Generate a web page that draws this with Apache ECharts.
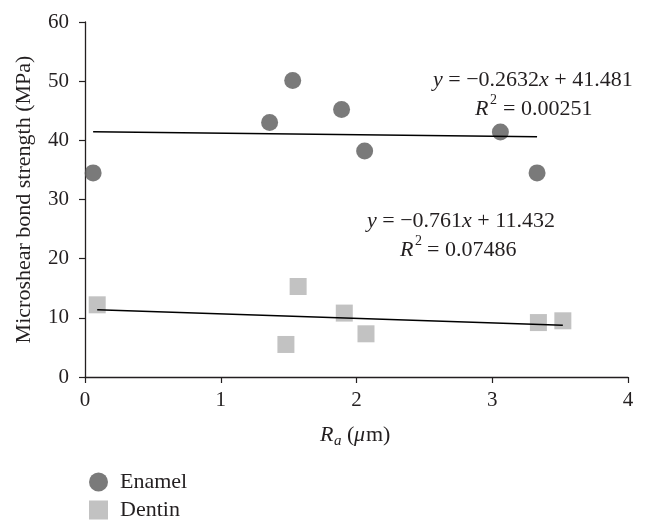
<!DOCTYPE html>
<html>
<head>
<meta charset="utf-8">
<script src="https://cdn.jsdelivr.net/npm/echarts@6/dist/echarts.min.js"></script>
<style>html,body{margin:0;padding:0;background:#fff}#c{width:648px;height:527px}</style>
</head>
<body>
<div id="c"></div>
<script>
const enamelX = [0.06, 1.36, 1.53, 1.89, 2.06, 3.06, 3.33];
const enamelY = [34.5, 43.0, 50.1, 45.2, 38.2, 41.4, 34.5];
const dentinX = [0.09, 1.57, 1.48, 1.91, 2.07, 3.34, 3.52];
const dentinY = [12.2, 15.3, 5.5, 10.8, 7.3, 9.2, 9.5];
const enamelTrendX = [0.06, 3.33];
const enamelTrendY = [41.46, 40.60];
const dentinTrendX = [0.09, 3.52];
const dentinTrendY = [11.36, 8.75];
const xTicks = [0, 1, 2, 3, 4];
const yTicks = [0, 10, 20, 30, 40, 50, 60];

const zip = (a, b) => a.map((v, i) => [v, b[i]]);
const FONT = '"Liberation Serif", "DejaVu Serif", serif';
const TXT = '#231f20';
const FS = 22;

function t(x, y, text, size, italic) {
  return {type: 'text', x: x, y: y, z: 10,
    style: {text: text, fontFamily: FONT, fontSize: size || FS, fontStyle: italic ? 'italic' : 'normal',
            fill: TXT, align: 'left', verticalAlign: 'middle'}};
}
function rt(x, y, text, size) {
  const s = size || FS;
  return {type: 'text', x: x, y: y, z: 10,
    style: {text: text, fontFamily: FONT, fontSize: s, fill: TXT, align: 'left', verticalAlign: 'middle',
      rich: {i: {fontStyle: 'italic', fontFamily: FONT, fontSize: s, fill: TXT}}}};
}

const chart = echarts.init(document.getElementById('c'), null, {renderer: 'canvas'});
chart.setOption({
  animation: false,
  backgroundColor: '#fff',
  grid: {left: 85, right: 20, top: 22, bottom: 150, containLabel: false},
  xAxis: {
    type: 'value', min: xTicks[0], max: xTicks[xTicks.length - 1], interval: 1,
    axisLine: {lineStyle: {color: '#231f20', width: 1.3}},
    axisTick: {show: true, length: 6, lineStyle: {color: '#231f20', width: 1.2}},
    splitLine: {show: false},
    axisLabel: {fontFamily: FONT, fontSize: 21, color: TXT, margin: 13}
  },
  yAxis: {
    type: 'value', min: yTicks[0], max: yTicks[yTicks.length - 1], interval: 10,
    axisLine: {show: true, lineStyle: {color: '#231f20', width: 1.3}},
    axisTick: {show: true, length: 6, lineStyle: {color: '#231f20', width: 1.2}},
    splitLine: {show: false},
    axisLabel: {fontFamily: FONT, fontSize: 21, color: TXT, margin: 16},
    name: 'Microshear bond strength (MPa)',
    nameLocation: 'middle', nameGap: 50,
    nameTextStyle: {fontFamily: FONT, fontSize: 22, color: TXT}
  },
  legend: {
    orient: 'vertical', left: 84, top: 466, itemWidth: 19, itemHeight: 19, itemGap: 6,
    data: [{name: 'Enamel', icon: 'circle'}, {name: 'Dentin', icon: 'rect'}],
    textStyle: {fontFamily: FONT, fontSize: 22, color: TXT, padding: [0, 0, 0, 7]}
  },
  series: [
    {name: 'Enamel', type: 'scatter', data: zip(enamelX, enamelY), symbol: 'circle', symbolSize: 17,
     itemStyle: {color: '#595959'}, z: 3},
    {name: 'Dentin', type: 'scatter', data: zip(dentinX, dentinY), symbol: 'rect', symbolSize: 17,
     itemStyle: {color: '#b3b3b3'}, z: 3},
    {name: 'EnamelTrend', type: 'line', data: zip(enamelTrendX, enamelTrendY), showSymbol: false, symbol: 'none',
     lineStyle: {color: '#000', width: 1.5}, z: 4},
    {name: 'DentinTrend', type: 'line', data: zip(dentinTrendX, dentinTrendY), showSymbol: false, symbol: 'none',
     lineStyle: {color: '#000', width: 1.5}, z: 4}
  ],
  graphic: [
    rt(433, 80, '{i|y} = −0.2632{i|x} + 41.481'),
    t(475, 109, 'R', FS, true),
    t(490, 100, '2', 14),
    t(503, 109, '= 0.00251'),

    rt(367, 221, '{i|y} = −0.761{i|x} + 11.432'),
    t(400, 250, 'R', FS, true),
    t(415, 241, '2', 14),
    t(427, 250, '= 0.07486'),

    t(320, 435, 'R', FS, true),
    t(334, 441, 'a', 15, true),
    t(347, 435, '(', FS),
    t(354, 435, 'μ', FS, true),
    t(366, 435, 'm)', FS)
  ]
});
</script>
</body>
</html>
